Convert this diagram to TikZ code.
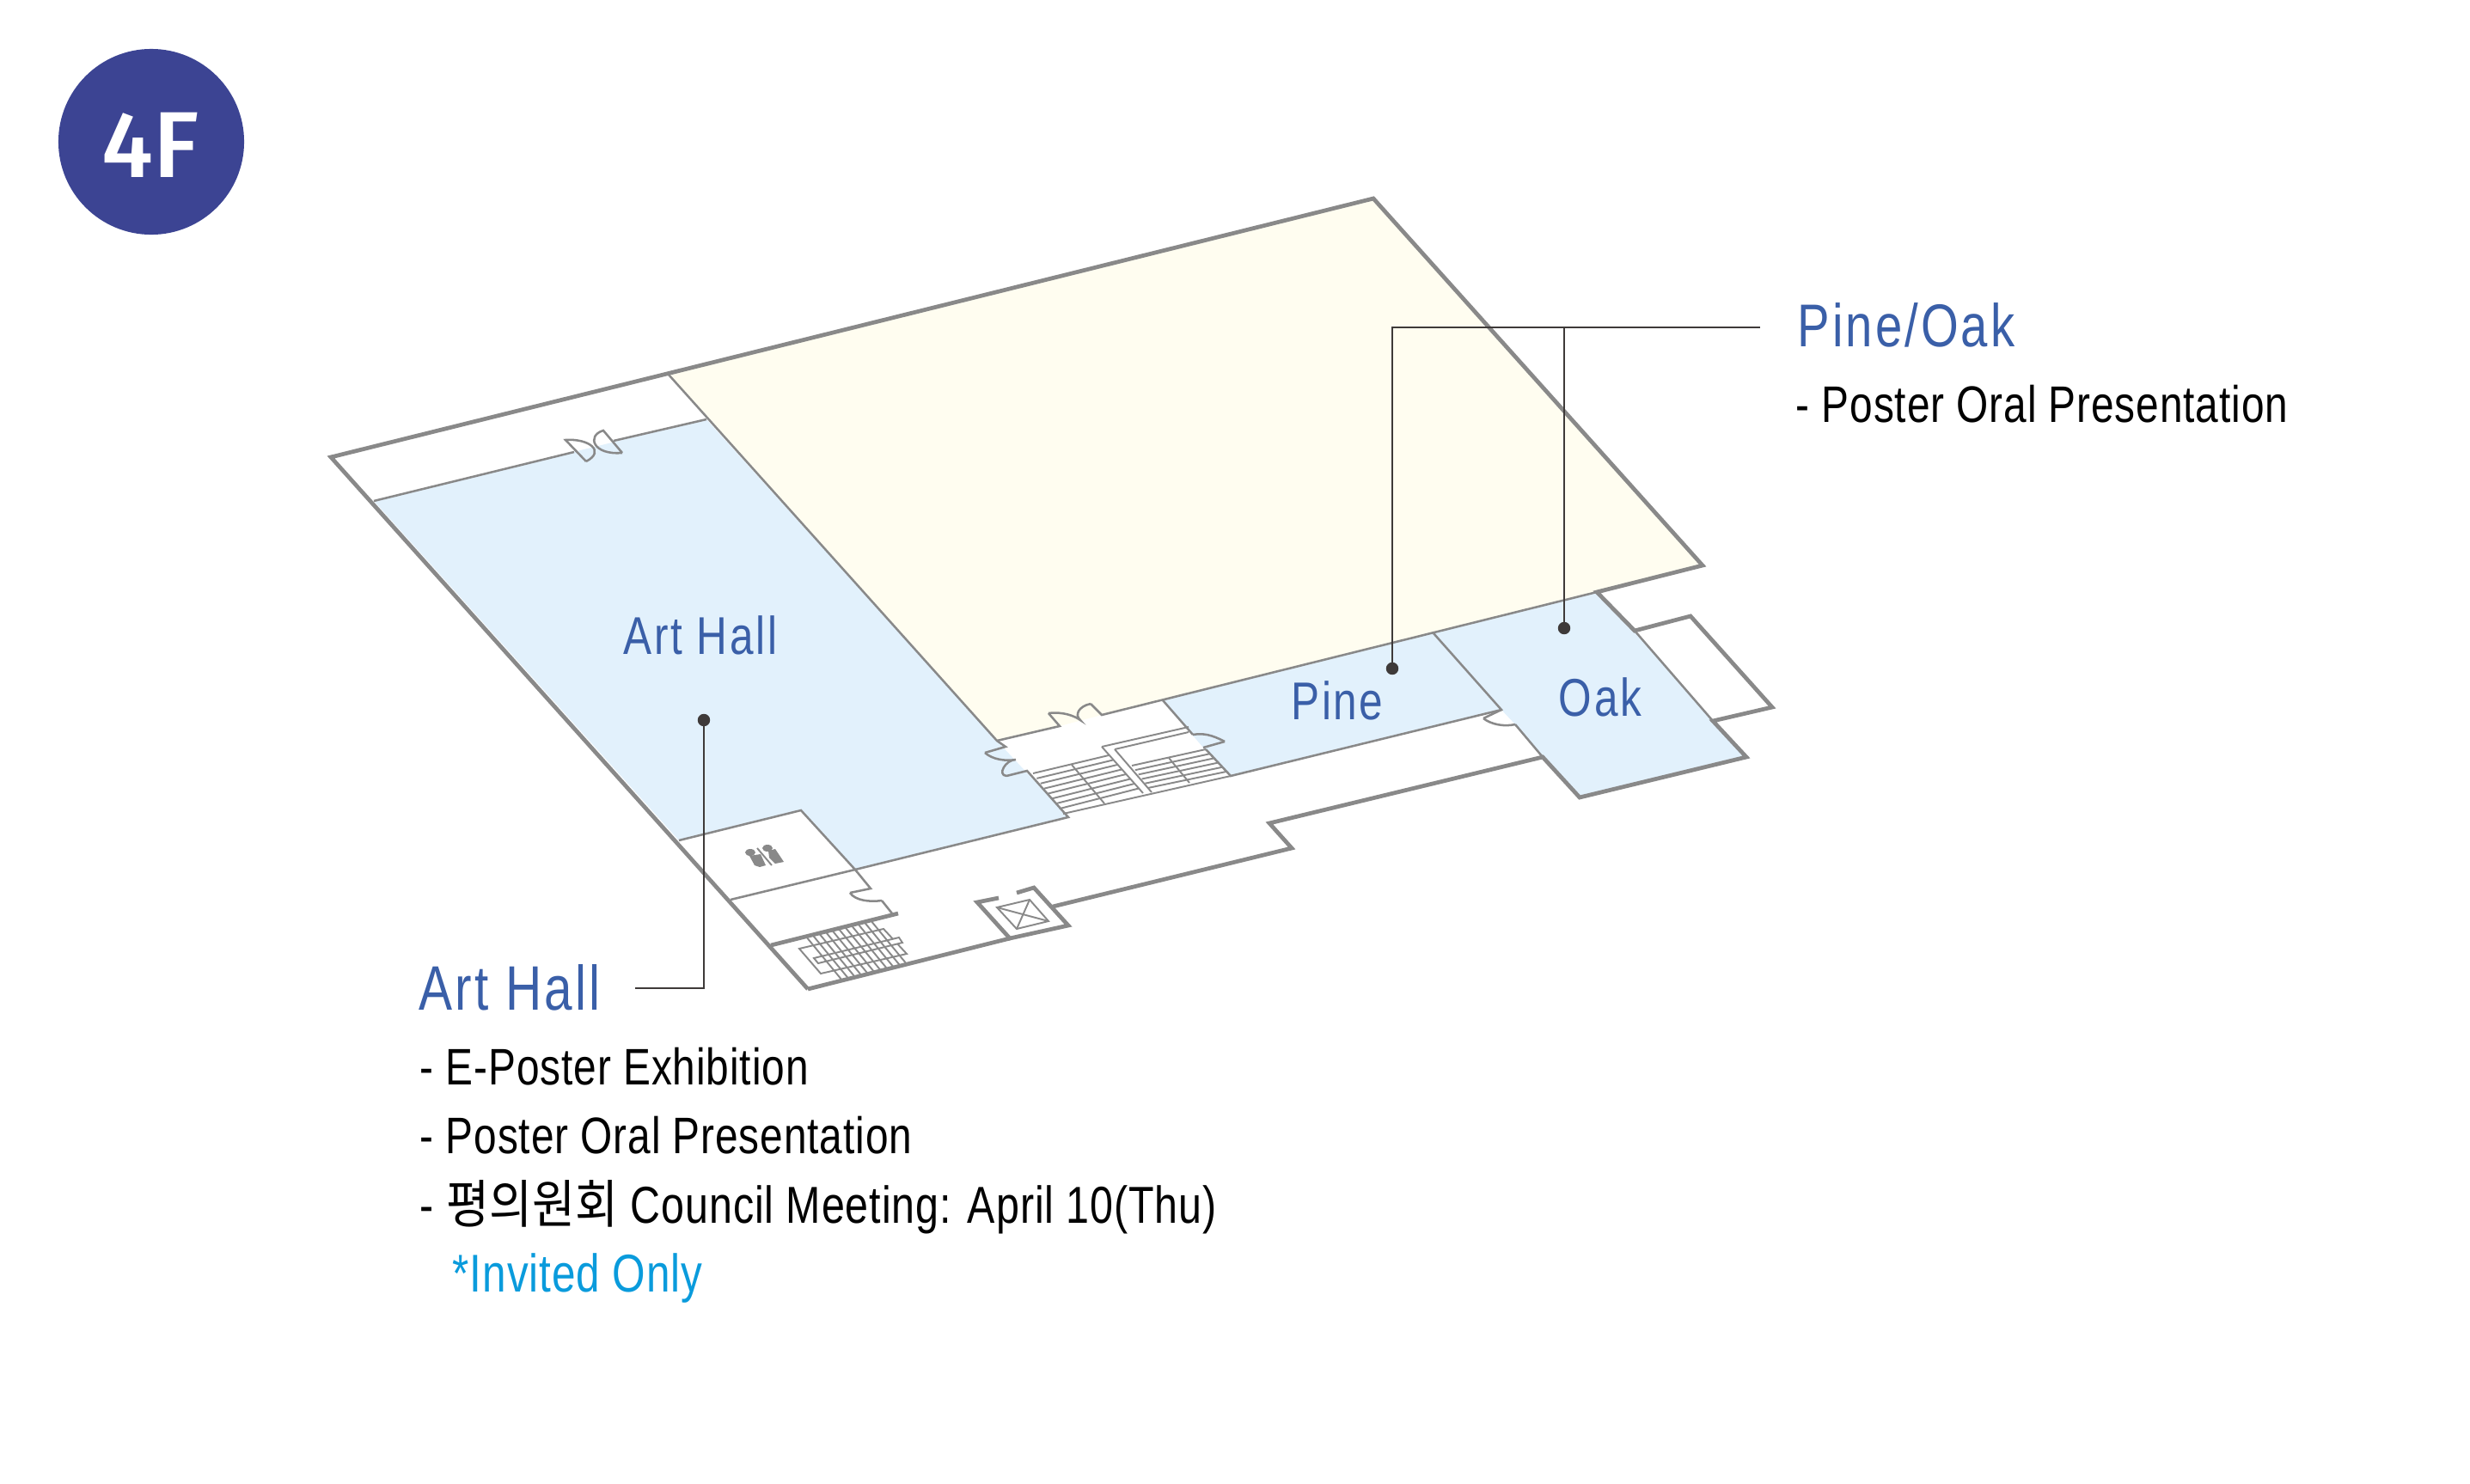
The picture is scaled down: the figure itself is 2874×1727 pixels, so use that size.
\documentclass[tikz,border=0pt]{standalone}
\usepackage{fontspec}
\setmainfont[FakeStretch=0.8,LetterSpace=1.5]{Liberation Sans}
\newfontfamily\headfont[FakeStretch=0.8,LetterSpace=4.3]{Liberation Sans}
\newfontfamily\krfont[FakeStretch=0.9]{Noto Sans CJK KR}
\newfontfamily\bigfont{Fira Sans Medium}
\usetikzlibrary{calc}
\definecolor{wallgray}{HTML}{898989}
\definecolor{hallblue}{HTML}{E2F1FC}
\definecolor{restyellow}{HTML}{FFFDF0}
\definecolor{titleblue}{HTML}{3A5FA8}
\definecolor{floorblue}{HTML}{3C4493}
\definecolor{invitecyan}{HTML}{0A9BDC}
\definecolor{leadgray}{HTML}{3E3A39}
\tikzset{
	thickwall/.style={wallgray, line width=1.35pt, line join=miter},
	thinwall/.style={wallgray, line width=0.72pt, line join=miter},
	stairline/.style={wallgray, line width=0.55pt},
	leadline/.style={leadgray, line width=0.6pt},
	leaddot/.style={leadgray, fill},
	roomlabel/.style={titleblue, anchor=base, inner sep=0pt, font=\headfont\fontsize{17.6}{20}\selectfont},
	headlabel/.style={titleblue, anchor=base west, inner sep=0pt, font=\headfont\fontsize{20}{24}\selectfont},
	bodylabel/.style={black, anchor=base west, inner sep=0pt, font=\fontsize{17}{20}\selectfont}
}
\begin{document}
\begin{tikzpicture}[x=0.01cm, y=-0.01cm]
	\useasboundingbox (0,0) rectangle (2874,1727);

	% rooms
	\fill [hallblue] (435,583) -- (822,488) -- (1160,862) -- (1243,951) -- (995,1012) -- (932,943) -- (790,978) -- cycle;
	\fill [restyellow] (778,436) -- (1598,231) -- (1981,658) -- (1353,815) -- (1282,832) -- (1233,845) -- (1160,862) -- cycle;
	\fill [hallblue] (1353,815) -- (1668,737) -- (1747,826) -- (1432,903) -- (1400,870) -- cycle;
	\fill [hallblue] (1668,737) -- (1858,689) -- (1902,734) -- (1993,839) -- (2032,881) -- (1838,928) -- (1795,881) -- (1763,843) -- (1747,826) -- cycle;

	% outer walls
	\draw [thickwall] (940,1151) -- (385,532) -- (1598,231) -- (1981,658) -- (1858,689) -- (1902,734) -- (1967,717) -- (2062,823) -- (1993,839) -- (2032,881) -- (1838,928) -- (1795,881) -- (1477,958) -- (1503,987) -- (1225,1055);
	\draw [thickwall] (1183,1039) -- (1203,1033) -- (1243,1077) -- (1175,1092) -- (1137,1050) -- (1162,1045);
	\draw [thickwall] (1175,1092) -- (940,1151);
	\draw [thickwall] (897,1100) -- (1045,1063);

	% inner walls
	\draw [thinwall] (435,583) -- (668,526);
	\draw [thinwall] (714,513) -- (822,488);
	\draw [thinwall] (778,436) -- (1160,862) -- (1170,869) -- (1146,876);
	\draw [thinwall] (1171,903) -- (1195,897) -- (1243,951) -- (995,1012) -- (932,943) -- (790,978);
	\draw [thinwall] (850,1047) -- (995,1012) -- (1013,1034) -- (989,1039);
	\draw [thinwall] (1026,1048) -- (1038,1063);
	\draw [thinwall] (1160,862) -- (1233,845) -- (1220,830);
	\draw [thinwall] (1269,819) -- (1282,832) -- (1858,689);
	\draw [thinwall] (1353,815) -- (1388,855);
	\draw [thinwall] (1425,863) -- (1400,870);
	\draw [thinwall] (1403,872) -- (1432,903) -- (1747,826);
	\draw [thinwall] (1668,737) -- (1747,826) -- (1726,836);
	\draw [thinwall] (1763,843) -- (1795,881);
	\draw [thinwall] (1902,734) -- (1993,839);

	% doors
	\draw [thinwall] (682,537) -- (658,512) .. controls (685,510) and (705,525) .. (682,537);
	\draw [thinwall] (724,527) -- (702,501) .. controls (682,507) and (690,530) .. (724,527);
	\draw [thinwall] (1146,876) .. controls (1155,884) and (1170,886) .. (1182,884) .. controls (1170,884) and (1160,902) .. (1171,903);
	\draw [thinwall] (1220,830) .. controls (1237,828) and (1250,833) .. (1257,838) .. controls (1250,832) and (1255,822) .. (1269,819);
	\draw [thinwall] (1425,863) .. controls (1410,855) and (1400,853) .. (1388,855);
	\draw [thinwall] (1726,836) .. controls (1735,843) and (1750,846) .. (1763,843);
	\draw [thinwall] (989,1039) .. controls (995,1048) and (1012,1050) .. (1026,1048);

	% stairs at the lobby
	\draw [stairline] (1282,869) -- (1383,846);
	\draw [stairline] (1297,872) -- (1383,852);
	\draw [stairline] (1282,869) -- (1330,923);
	\draw [stairline] (1297,872) -- (1340,922);
	\draw [stairline] (1237,947) -- (1432,903);
	\coordinate (stairA) at (1202,900);
	\coordinate (stairB) at (1290,879);
	\coordinate (stairC) at (1237,947);
	\coordinate (stairD) at (1330,923);
	\foreach \t in {0,0.125,...,0.9}
		\draw [stairline] ($(stairA)!\t!(stairC)$) -- ($(stairB)!\t!(stairD)$);
	\draw [stairline] (1247,890) -- (1285,935);
	\coordinate (stairE) at (1317,891);
	\coordinate (stairF) at (1403,872);
	\coordinate (stairG) at (1340,922);
	\coordinate (stairH) at (1432,903);
	\foreach \t in {0,0.167,...,0.9}
		\draw [stairline] ($(stairE)!\t!(stairG)$) -- ($(stairF)!\t!(stairH)$);
	\draw [stairline] (1360,882) -- (1384,911);

	% stairs at the corner
	\coordinate (cornerA) at (938,1090);
	\coordinate (cornerB) at (1013,1071);
	\coordinate (cornerC) at (980,1141);
	\coordinate (cornerD) at (1055,1122);
	\draw [stairline] (930,1104) -- (1028,1081) -- (1055,1110) -- (955,1133) -- cycle;
	\draw [stairline, fill=white] (947,1115) -- (1046,1091) -- (1050,1097) -- (952,1121) -- cycle;
	\foreach \t in {0,0.1,...,1.01}
		\draw [stairline] ($(cornerA)!\t!(cornerB)$) -- ($(cornerC)!\t!(cornerD)$);

	% lift
	\draw [stairline] (1160,1056) -- (1198,1047) -- (1220,1072) -- (1183,1081) -- cycle;
	\draw [stairline] (1160,1056) -- (1220,1072);
	\draw [stairline] (1198,1047) -- (1183,1081);

	% toilets
	\fill [wallgray] (873,992) ellipse [x radius=6, y radius=4];
	\fill [wallgray] (893,987) ellipse [x radius=6, y radius=4];
	\fill [wallgray] (872,996) -- (885,994) -- (891,1007) -- (884,1009) -- (878,1007) -- cycle;
	\fill [wallgray] (894,990) -- (902,988) -- (912,1003) -- (902,1005) -- (895,998) -- cycle;
	\draw [stairline] (881,987) -- (898,1007);

	% floor badge
	\node [circle, fill=floorblue, minimum size=2.16cm, inner sep=0pt] (floorbadge) at (176,165) {};
	\node [white, anchor=base, inner sep=0pt, font=\bigfont\fontsize{31}{34}\selectfont] (floorname) at (175,206) {4F};

	% room names
	\node [roomlabel] (arthallroom) at (815,761) {Art Hall};
	\node [roomlabel] (pineroom) at (1556,837) {Pine};
	\node [roomlabel] (oakroom) at (1862,833) {Oak};

	% legends
	\node [headlabel] (pineoakhead) at (2091,403) {Pine/Oak};
	\node [bodylabel] (pineoakline) at (2089,491) {- Poster Oral Presentation};
	\node [headlabel, font=\headfont\fontsize{20.8}{24}\selectfont] (arthallhead) at (487,1175) {Art Hall};
	\node [bodylabel] (arthallone) at (488,1262) {- E-Poster Exhibition};
	\node [bodylabel] (arthalltwo) at (488,1342) {- Poster Oral Presentation};
	\node [bodylabel, font=\fontsize{17.2}{20}\selectfont] (arthallthree) at (488,1423) {- {\krfont 평의원회} Council Meeting: April 10(Thu)};
	\node [bodylabel, invitecyan, font=\fontsize{17.6}{20}\selectfont] (arthallfour) at (526,1503) {*Invited Only};

	% leaders
	\coordinate (pinedot) at (1620,778);
	\coordinate (oakdot) at (1820,731);
	\coordinate (artdot) at (819,838);
	\coordinate (pineoakend) at (2048,381);
	\coordinate (arthallend) at (739,1150);
	\draw [leadline] (pineoakend) -- (pinedot |- pineoakend) -- (pinedot);
	\draw [leadline] (oakdot |- pineoakend) -- (oakdot);
	\draw [leadline] (arthallend) -- (artdot |- arthallend) -- (artdot);
	\draw [leaddot] (pinedot) circle [radius=6.5];
	\draw [leaddot] (oakdot) circle [radius=6.5];
	\draw [leaddot] (artdot) circle [radius=6.5];
\end{tikzpicture}
\end{document}
